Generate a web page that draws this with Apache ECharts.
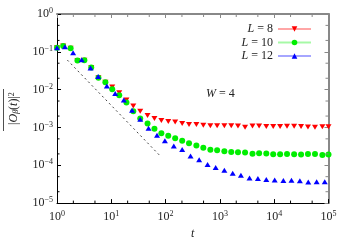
<!DOCTYPE html>
<html><head><meta charset="utf-8">
<script src="https://cdn.jsdelivr.net/npm/echarts@6/dist/echarts.min.js"></script>
<style>html,body{margin:0;padding:0;background:#fff}#c{width:350px;height:245px}</style>
</head><body><div id="c"></div>
<script>
// time grid shared by L=8 and L=10
const tRG = [1, 1.30, 1.78, 2.38, 3.19, 4.27, 5.8, 7.78, 10.4, 14.0, 19.0, 25.4, 34.1, 46.5, 62.3, 83.5, 112, 150, 202, 270, 369, 495, 667, 889, 1208, 1618, 2153, 2909, 3981, 5272, 7155, 9590, 12850, 17230, 23280, 31240, 41850, 56360, 77130, 100000];
const yL8 = [0.129, 0.142, 0.124, 0.0588, 0.0599, 0.0383, 0.0207, 0.0156, 0.01175, 0.00832, 0.00535, 0.00367, 0.00268, 0.00206, 0.00172, 0.00153, 0.00144, 0.00139, 0.00127, 0.00120, 0.00120, 0.00115, 0.00111, 0.00111, 0.00111, 0.00111, 0.00110, 0.00102, 0.00110, 0.00109, 0.00106, 0.00106, 0.00106, 0.00107, 0.00107, 0.00106, 0.00103, 0.00102, 0.00105, 0.00105];
const yL10 = [0.129, 0.142, 0.124, 0.0588, 0.0599, 0.0383, 0.0207, 0.0156, 0.0103, 0.00716, 0.00458, 0.00268, 0.00172, 0.00128, 0.000931, 0.000703, 0.000603, 0.000519, 0.000447, 0.000380, 0.000332, 0.000289, 0.000258, 0.000248, 0.000236, 0.000226, 0.000222, 0.000218, 0.000203, 0.000209, 0.000206, 0.000195, 0.000197, 0.000200, 0.000195, 0.000194, 0.000200, 0.000200, 0.000188, 0.000194];
// time grid for L=12
const tL12 = [1, 1.40, 1.98, 2.85, 4.15, 5.73, 8.28, 11.8, 17.0, 24.1, 34.1, 48.5, 69.5, 97.1, 141.6, 202, 288, 415, 593, 836, 1208, 1722, 2438, 3510, 5012, 7155, 10210, 14760, 20800, 29700, 42400, 60500, 85300];
const yL12 = [0.129, 0.137, 0.0948, 0.0617, 0.0376, 0.0224, 0.0125, 0.00787, 0.00535, 0.00284, 0.00164, 0.000948, 0.000624, 0.000447, 0.000324, 0.000261, 0.000177, 0.000141, 0.000105, 8.67e-5, 7.38e-5, 6.17e-5, 5.47e-5, 4.63e-5, 4.50e-5, 4.19e-5, 4.06e-5, 3.94e-5, 4.02e-5, 3.87e-5, 3.61e-5, 3.67e-5, 3.65e-5];
const seriesNames = ['L = 8', 'L = 10', 'L = 12'];
// guide line ~ t^-3/2
const guideT = [1.55, 80];
const guideY = [0.0606, 1.75e-4];
const xRange = [1, 1e5];
const yRange = [1e-5, 1];
const xMinor = [2, 5, 20, 50, 200, 500, 2000, 5000, 20000, 50000];
const yMinor = [2e-5, 5e-5, 2e-4, 5e-4, 2e-3, 5e-3, 2e-2, 5e-2, 0.2, 0.5];
const annotation = 'W = 4';

const F = 'Liberation Serif';
const zip = (a, b) => a.map((v, i) => [v, b[i]]);
const supFmt = v => {
  const e = Math.round(Math.log10(v));
  return '{b|10}{s|' + (e < 0 ? '\u2212' + (-e) : e) + '}';
};
const labelRich = {
  b: {fontFamily: F, fontSize: 12, color: '#222', lineHeight: 14},
  s: {fontFamily: F, fontSize: 8, color: '#222', verticalAlign: 'top', lineHeight: 9}
};
const italicRich = {i: {fontFamily: F, fontStyle: 'italic', fontSize: 12, color: '#222'}};
const nameFmt = s => s.replace(/^([A-Za-z])/, '{i|$1}');

const colors = ['#ff0000', '#00ee00', '#0000ff'];

function minorX(params, api) {
  const v = api.value(0);
  const b = api.coord([v, yRange[0]]);
  const t = api.coord([v, yRange[1]]);
  return {type: 'group', children: [
    {type: 'line', shape: {x1: b[0], y1: b[1], x2: b[0], y2: b[1] - 2.5}, style: {stroke: '#000', lineWidth: 1}},
    {type: 'line', shape: {x1: t[0], y1: t[1], x2: t[0], y2: t[1] + 3}, style: {stroke: '#888', lineWidth: 1}}
  ]};
}
function minorY(params, api) {
  const v = api.value(1);
  const l = api.coord([xRange[0], v]);
  const r = api.coord([xRange[1], v]);
  return {type: 'group', children: [
    {type: 'line', shape: {x1: l[0], y1: l[1], x2: l[0] + 2.5, y2: l[1]}, style: {stroke: '#000', lineWidth: 1}},
    {type: 'line', shape: {x1: r[0], y1: r[1], x2: r[0] - 3, y2: r[1]}, style: {stroke: '#888', lineWidth: 1}}
  ]};
}

const chart = echarts.init(document.getElementById('c'), null, {renderer: 'canvas'});
const symbols = [
  {symbol: 'triangle', symbolRotate: 180, symbolSize: [6, 5]},
  {symbol: 'circle', symbolRotate: 0, symbolSize: 6},
  {symbol: 'triangle', symbolRotate: 0, symbolSize: [6, 5]}
];
const dataSets = [zip(tRG, yL8), zip(tRG, yL10), zip(tL12, yL12)];

chart.setOption({
  animation: false,
  backgroundColor: '#fff',
  grid: {left: 53, right: 21.5, top: 14, bottom: 38, containLabel: false},
  title: {
    text: nameFmt(annotation),
    left: 201, top: 83,
    textStyle: {fontFamily: F, fontSize: 12, fontWeight: 'normal', color: '#222', rich: italicRich}
  },
  legend: {
    orient: 'vertical', align: 'right', right: 33, top: 18,
    itemWidth: 33, itemHeight: 7, itemGap: 1.5,
    textStyle: {fontFamily: F, fontSize: 12, color: '#222', lineHeight: 10, rich: italicRich},
    formatter: n => nameFmt(n),
    data: seriesNames.map((n, i) => ({name: n, lineStyle: {color: colors[i], opacity: 0.35, width: 2}}))
  },
  xAxis: [
    {type: 'log', min: xRange[0], max: xRange[1], position: 'bottom',
     axisLine: {lineStyle: {color: '#000', width: 1}},
     axisTick: {inside: true, length: 4, lineStyle: {color: '#000'}},
     axisLabel: {formatter: supFmt, rich: labelRich, margin: 7},
     splitLine: {show: false},
     name: 't', nameLocation: 'middle', nameGap: 23,
     nameTextStyle: {fontFamily: F, fontStyle: 'italic', fontSize: 12, color: '#222'}},
    {type: 'log', min: xRange[0], max: xRange[1], position: 'top',
     axisLine: {lineStyle: {color: '#888', width: 2}},
     axisTick: {inside: true, length: 4, lineStyle: {color: '#888'}},
     axisLabel: {show: false}, splitLine: {show: false}}
  ],
  yAxis: [
    {type: 'log', min: yRange[0], max: yRange[1], position: 'left',
     axisLine: {lineStyle: {color: '#000', width: 1}},
     axisTick: {inside: true, length: 4, lineStyle: {color: '#000'}},
     axisLabel: {formatter: supFmt, rich: labelRich, margin: 4},
     splitLine: {show: false},
     name: '|{i|O}{sub|\u03b2}({i|t})|{sup|2}', nameLocation: 'middle', nameGap: 37, nameRotate: 90,
     nameTextStyle: {fontFamily: F, fontSize: 12, color: '#222', rich: {
       i: {fontFamily: F, fontStyle: 'italic', fontSize: 12, color: '#222'},
       sub: {fontFamily: F, fontStyle: 'italic', fontSize: 8, color: '#222', verticalAlign: 'bottom', lineHeight: 9},
       sup: {fontFamily: F, fontSize: 8, color: '#222', verticalAlign: 'top', lineHeight: 9}
     }}},
    {type: 'log', min: yRange[0], max: yRange[1], position: 'right',
     axisLine: {lineStyle: {color: '#888', width: 2}},
     axisTick: {inside: true, length: 4, lineStyle: {color: '#888'}},
     axisLabel: {show: false}, splitLine: {show: false}}
  ],
  graphic: [
    {type: 'line', shape: {x1: 3.5, y1: 89, x2: 3.5, y2: 131}, style: {stroke: '#222', lineWidth: 0.8}}
  ],
  series: [
    {type: 'line', name: 'guide', data: zip(guideT, guideY), symbol: 'none',
     lineStyle: {color: '#444', width: 1, type: [2, 3]}, z: 1, silent: true},
    ...seriesNames.map((n, i) => Object.assign({
      type: 'line', name: n, data: dataSets[i], showAllSymbol: true,
      itemStyle: {color: colors[i]}, lineStyle: {opacity: 0, width: 0}, z: 3 + i
    }, symbols[i])),
    {type: 'custom', name: 'mx', data: xMinor.map(v => [v, yRange[0]]), renderItem: minorX, clip: false, silent: true, z: 10},
    {type: 'custom', name: 'my', data: yMinor.map(v => [xRange[0], v]), renderItem: minorY, clip: false, silent: true, z: 10}
  ]
});
</script></body></html>
